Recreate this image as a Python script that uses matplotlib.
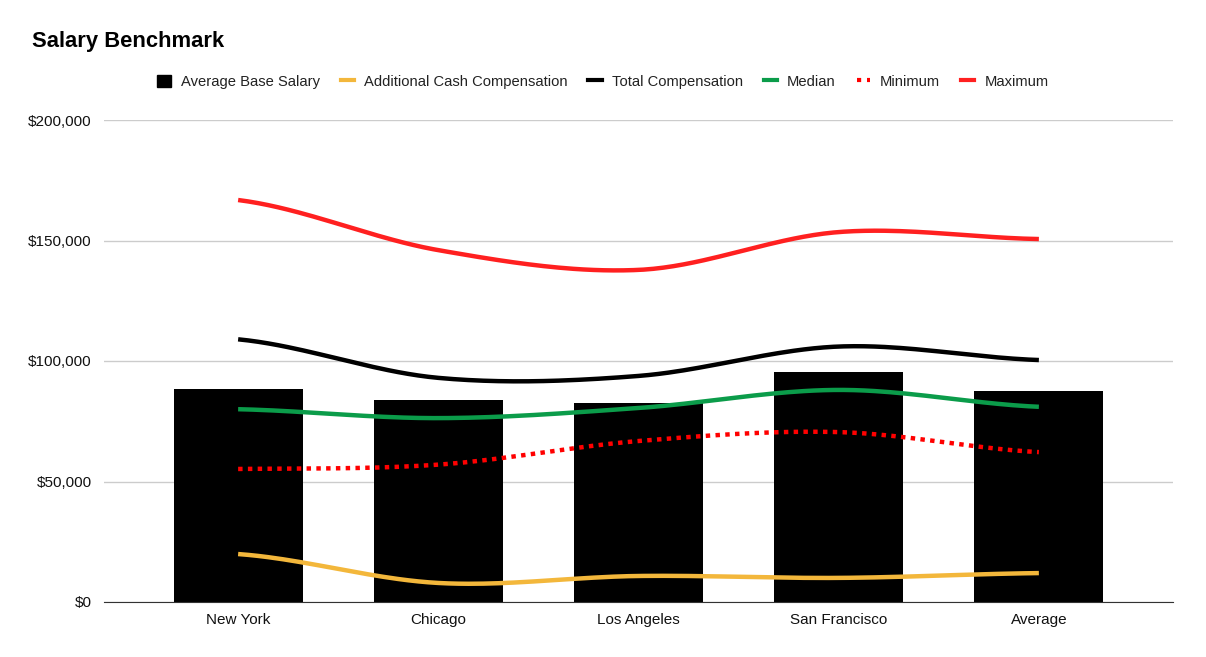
import matplotlib.pyplot as plt
import numpy as np
from matplotlib.lines import Line2D
from matplotlib.patches import Patch

plt.rcParams['font.family'] = ['Liberation Sans', 'DejaVu Sans']

cities = ["New York", "Chicago", "Los Angeles", "San Francisco", "Average"]
base_salary = [88400, 83800, 82600, 95400, 87600]
additional_cash = [19900, 7900, 10800, 10000, 12000]
total_comp = [109000, 93000, 93800, 106000, 100400]
median = [80000, 76300, 80500, 88000, 81000]
minimum = [55200, 57000, 66800, 70500, 62200]
maximum = [166800, 146000, 137800, 153500, 150600]


def smooth(x, y, n=40):
    """Catmull-Rom style curve through points (only for drawing)."""
    x = np.asarray(x, float)
    y = np.asarray(y, float)
    m = np.zeros_like(y)
    m[1:-1] = (y[2:] - y[:-2]) / (x[2:] - x[:-2])
    m[0] = (y[1] - y[0]) / (x[1] - x[0]) * 0.5
    m[-1] = (y[-1] - y[-2]) / (x[-1] - x[-2]) * 0.5
    xs, ys = [], []
    for i in range(len(x) - 1):
        h = x[i + 1] - x[i]
        t = np.linspace(0, 1, n, endpoint=(i == len(x) - 2))
        h00 = 2 * t**3 - 3 * t**2 + 1
        h10 = t**3 - 2 * t**2 + t
        h01 = -2 * t**3 + 3 * t**2
        h11 = t**3 - t**2
        xs.append(x[i] + t * h)
        ys.append(h00 * y[i] + h10 * h * m[i] + h01 * y[i + 1] + h11 * h * m[i + 1])
    return np.concatenate(xs), np.concatenate(ys)


fig = plt.figure(figsize=(12.06, 6.57), dpi=100)
ax = fig.add_axes([104 / 1206, 1 - 602 / 657, (1173 - 104) / 1206, (602 - 120) / 657])

xs = np.arange(len(cities))
ax.bar(xs, base_salary, width=0.645, color="black", zorder=2)

series = [
    (additional_cash, "#f3b73b", "-"),
    (total_comp, "black", "-"),
    (median, "#0b9c4a", "-"),
    (minimum, "#ff0000", (0, (1, 1.2))),
    (maximum, "#ff2020", "-"),
]
for vals, color, ls in series:
    sx, sy = smooth(xs, vals)
    ax.plot(sx, sy, color=color, lw=3.2, ls=ls, zorder=3, solid_capstyle="butt")

ax.set_xlim(-0.67, 4.67)
ax.set_ylim(0, 200000)
ax.set_yticks([0, 50000, 100000, 150000, 200000])
ax.set_yticklabels(["$0", "$50,000", "$100,000", "$150,000", "$200,000"])
ax.set_xticks(xs)
ax.set_xticklabels(cities)
ax.tick_params(axis="both", length=0, labelsize=11, colors="#111111")
ax.tick_params(axis="x", pad=8)
ax.tick_params(axis="y", pad=9)
ax.grid(axis="y", color="#cccccc", lw=1, zorder=0)
ax.set_axisbelow(True)
for s in ["top", "right", "left"]:
    ax.spines[s].set_visible(False)
ax.spines["bottom"].set_color("#333333")
ax.spines["bottom"].set_zorder(4)

fig.text(32 / 1206, 1 - 42 / 657, "Salary Benchmark", fontsize=15.8, fontweight="bold",
         va="center", ha="left")

handles = [
    Patch(facecolor="black", edgecolor="black"),
    Line2D([], [], color="#f3b73b", lw=3),
    Line2D([], [], color="black", lw=3),
    Line2D([], [], color="#0b9c4a", lw=3),
    Line2D([], [], color="#ff0000", lw=3, ls=(0, (1, 1.4))),
    Line2D([], [], color="#ff2020", lw=3),
]
labels = ["Average Base Salary", "Additional Cash Compensation", "Total Compensation",
          "Median", "Minimum", "Maximum"]
fig.legend(handles, labels, loc="center", bbox_to_anchor=(603 / 1206, 1 - 82 / 657),
           ncol=6, frameon=False, fontsize=10.6, handlelength=0.9, handleheight=0.9,
           columnspacing=1.4, handletextpad=0.7, labelcolor="#222222")

fig.savefig("out.png", dpi=100)
